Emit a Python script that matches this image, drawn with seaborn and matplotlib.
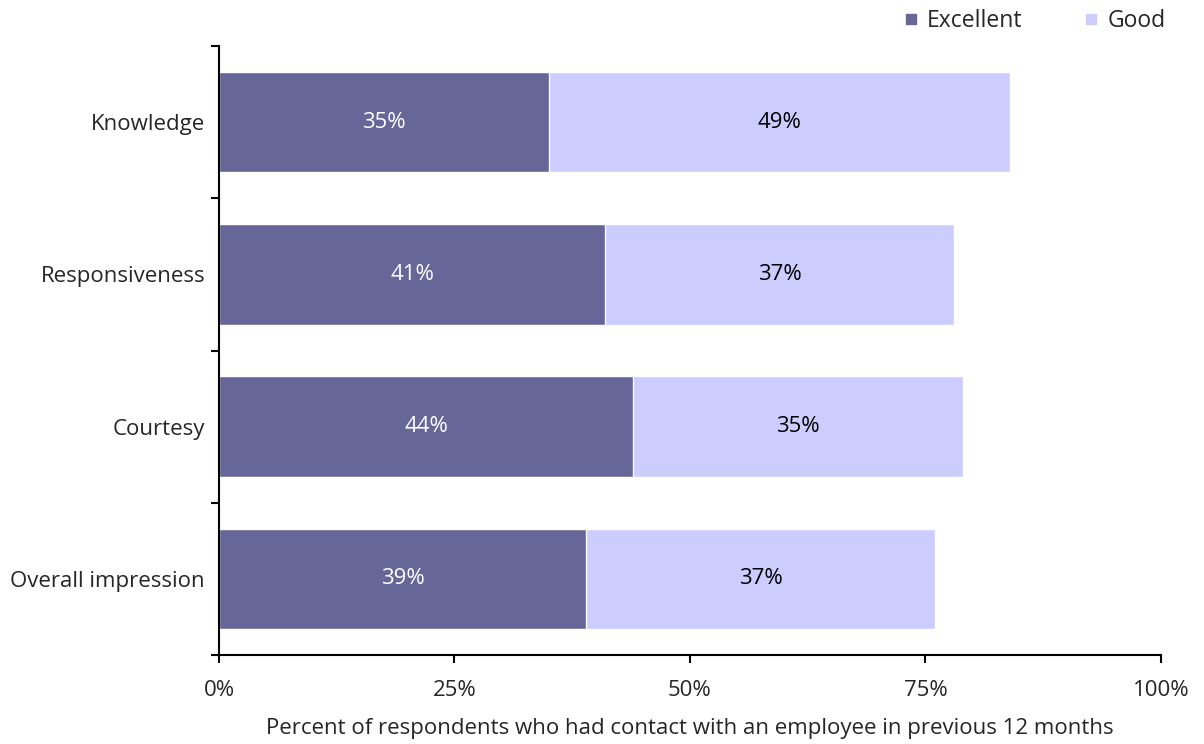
import matplotlib
matplotlib.use("Agg")
import matplotlib.pyplot as plt
from matplotlib.lines import Line2D
import seaborn as sns
import pandas as pd

categories = ["Knowledge", "Responsiveness", "Courtesy", "Overall impression"]
excellent = [35, 41, 44, 39]
good = [49, 37, 35, 37]
xticks = [0, 25, 50, 75, 100]

DARK = "#666699"
LIGHT = "#CCCCFF"

sns.set_theme(style="white")
plt.rcParams["font.family"] = ["Open Sans", "DejaVu Sans"]
FS = 16

df = pd.DataFrame({"cat": categories, "exc": excellent,
                   "tot": [e + g for e, g in zip(excellent, good)]})

fig = plt.figure(figsize=(12.04, 7.44), dpi=100)
ax = fig.add_axes([219/1204, 89/744, 942/1204, 609/744])

sns.barplot(data=df, y="cat", x="tot", orient="h", color=LIGHT, width=0.66,
            edgecolor="white", linewidth=1, saturation=1, ax=ax)
sns.barplot(data=df, y="cat", x="exc", orient="h", color=DARK, width=0.66,
            edgecolor="white", linewidth=1, saturation=1, ax=ax)

for i, (e, g) in enumerate(zip(excellent, good)):
    ax.text(e / 2, i, f"{e}%", ha="center", va="center", color="white", fontsize=FS)
    ax.text(e + g / 2, i, f"{g}%", ha="center", va="center", color="black", fontsize=FS)

ax.set_xlim(0, 100)
ax.set_ylim(3.5, -0.5)
ax.set_xticks(xticks)
ax.set_xticklabels([f"{t}%" for t in xticks], fontsize=FS)
ax.set_yticks(range(len(categories)))
ax.set_yticklabels(categories, fontsize=FS)
ax.set_yticks([-0.5, 0.5, 1.5, 2.5, 3.5], minor=True)
ax.tick_params(axis="y", which="major", left=False, length=0, pad=10)
ax.tick_params(axis="y", which="minor", left=True, length=6, width=1.5,
               direction="out", color="black")
ax.tick_params(axis="x", which="major", bottom=True, length=6, width=1.5,
               direction="out", color="black", pad=12)
ax.set_xlabel("Percent of respondents who had contact with an employee in previous 12 months",
              fontsize=FS, labelpad=12)
ax.set_ylabel("")

for s in ["top", "right"]:
    ax.spines[s].set_visible(False)
for s in ["left", "bottom"]:
    ax.spines[s].set_color("black")
    ax.spines[s].set_linewidth(1.5)

handles = [Line2D([], [], marker="s", linestyle="none", color=DARK, markersize=7),
           Line2D([], [], marker="s", linestyle="none", color=LIGHT, markersize=7)]
fig.legend(handles, ["Excellent", "Good"], loc="upper right", bbox_to_anchor=(0.985, 1.015),
           ncol=2, frameon=False, fontsize=16.5, handletextpad=0.2, columnspacing=2.5,
           handlelength=1.0)

fig.savefig("out.png", dpi=100)
